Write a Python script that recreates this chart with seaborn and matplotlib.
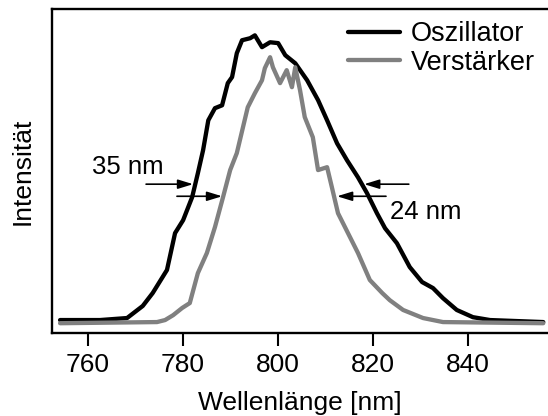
import pandas as pd
import seaborn as sns
import matplotlib.pyplot as plt

# Spectra (wavelength in nm, intensity normalised to the oscillator peak)
osc_nm = [754.2, 762.6, 768.3, 771.6, 773.7, 776.7, 778.4, 780.1, 782.0, 783.2,
          784.3, 785.4, 786.8, 788.3, 789.5, 790.4, 791.4, 792.5, 794.2, 795.2,
          796.7, 798.4, 800.1, 801.6, 803.7, 806.2, 808.5, 810.4, 812.5, 814.6,
          816.9, 818.8, 820.9, 822.6, 825.1, 827.8, 830.4, 832.7, 834.8, 837.7,
          841.1, 844.7, 855.9]
osc_int = [0.014, 0.014, 0.021, 0.063, 0.108, 0.188, 0.316, 0.361, 0.441, 0.524,
           0.604, 0.708, 0.750, 0.760, 0.837, 0.858, 0.941, 0.986, 0.993, 1.003,
           0.962, 0.979, 0.976, 0.934, 0.906, 0.847, 0.778, 0.708, 0.628, 0.569,
           0.510, 0.455, 0.385, 0.333, 0.281, 0.198, 0.146, 0.125, 0.090, 0.049,
           0.024, 0.014, 0.007]

amp_nm = [754.2, 774.6, 776.3, 778.0, 779.9, 781.5, 783.2, 785.1, 786.8, 788.5,
          790.0, 791.4, 792.7, 793.7, 795.2, 796.7, 797.3, 798.4, 799.0, 800.5,
          801.9, 803.0, 803.7, 804.7, 805.7, 807.4, 808.5, 810.4, 811.4, 812.7,
          814.8, 816.9, 819.4, 822.0, 823.6, 826.4, 830.6, 834.8, 855.9]
amp_int = [0.003, 0.007, 0.014, 0.031, 0.056, 0.073, 0.177, 0.247, 0.337, 0.441,
           0.535, 0.594, 0.684, 0.753, 0.802, 0.847, 0.889, 0.927, 0.892, 0.837,
           0.882, 0.823, 0.892, 0.813, 0.719, 0.649, 0.535, 0.545, 0.476, 0.385,
           0.316, 0.247, 0.153, 0.108, 0.083, 0.049, 0.021, 0.007, 0.003]

series_names = ['Oszillator', 'Verstärker']
series_colors = ['#000000', '#808080']
xticks = [760, 780, 800, 820, 840]

df = pd.concat([
    pd.DataFrame({'nm': osc_nm, 'I': osc_int, 'serie': series_names[0]}),
    pd.DataFrame({'nm': amp_nm, 'I': amp_int, 'serie': series_names[1]}),
])

sns.set_style('white')
plt.rcParams['font.family'] = ['Liberation Sans', 'DejaVu Sans']
plt.rcParams['text.color'] = 'black'
plt.rcParams['axes.labelcolor'] = 'black'

fig = plt.figure(figsize=(5.48, 4.16), dpi=100)
ax = fig.add_axes([0.0949, 0.1995, 0.9051, 0.7785])

sns.lineplot(data=df, x='nm', y='I', hue='serie', hue_order=series_names,
             palette=dict(zip(series_names, series_colors)), estimator=None,
             linewidth=3.1, legend=False, ax=ax)

ax.set_xlim(752.5, 856.9)
ax.set_ylim(-0.031, 1.094)
ax.set_xticks(xticks)
ax.set_yticks([])
ax.tick_params(axis='x', direction='out', length=9.5, width=1.5, pad=5,
               labelsize=19, colors='black', bottom=True)
for side in ['left', 'top', 'bottom']:
    ax.spines[side].set_color('black')
    ax.spines[side].set_linewidth(1.7)
ax.spines['right'].set_visible(False)

ax.set_xlabel('Wellenlänge [nm]', fontsize=19)
ax.set_ylabel('Intensität', fontsize=19)
ax.xaxis.set_label_coords(0.5, -0.178)
ax.yaxis.set_label_coords(-0.035, 0.5)

ax.legend(ax.lines[:2], series_names, loc='upper left', bbox_to_anchor=(0.597, 0.962),
          frameon=False, fontsize=19.5, handlelength=1.9, handletextpad=0.42,
          labelspacing=0.08, borderpad=0, borderaxespad=0)

# FWHM arrows
arrow = dict(arrowstyle='-|>,head_length=0.65,head_width=0.2', color='black',
             lw=1.2, mutation_scale=14, shrinkA=0, shrinkB=0)
ax.annotate('', xy=(782.2, 0.486), xytext=(772.3, 0.486), arrowprops=arrow)
ax.annotate('', xy=(788.3, 0.444), xytext=(778.8, 0.444), arrowprops=arrow)
ax.annotate('', xy=(818.2, 0.486), xytext=(827.6, 0.486), arrowprops=arrow)
ax.annotate('', xy=(812.5, 0.444), xytext=(822.8, 0.444), arrowprops=arrow)
ax.text(768.5, 0.545, '35 nm', fontsize=18.5, ha='center', va='center')
ax.text(831.2, 0.389, '24 nm', fontsize=18.5, ha='center', va='center')

fig.savefig('out.png', dpi=100)
